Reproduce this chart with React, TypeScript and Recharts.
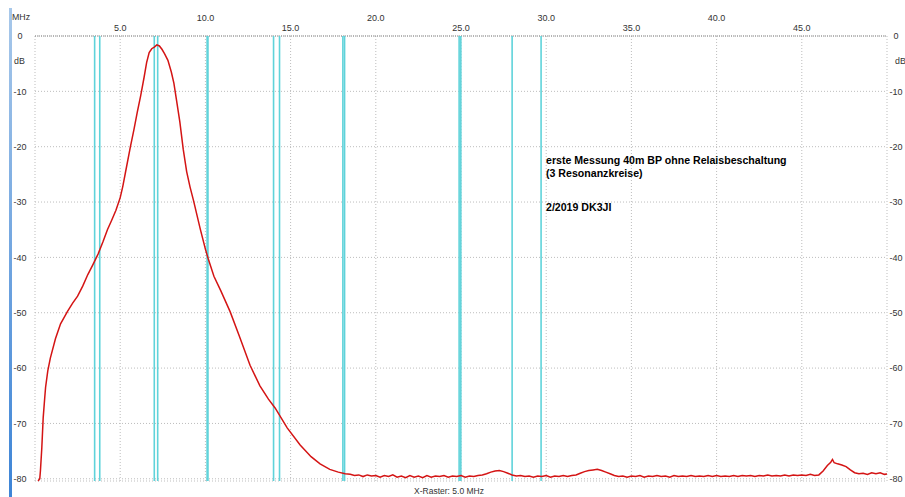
import { LineChart, Line, XAxis, YAxis, CartesianGrid, ReferenceLine } from "recharts";

// measured trace of the 40m band pass, [MHz, dB]
const TRACE_PASSBAND: [number, number][] = [
  [0.18, -80.4], [0.28, -80.0], [0.32, -78.5], [0.4, -74.4], [0.48, -69.0], [0.57, -65.4],
  [0.62, -63.5], [0.75, -60.5], [0.9, -58.2], [1.2, -54.7], [1.5, -52.0], [1.9, -49.8],
  [2.2, -48.3], [2.5, -47.0], [2.8, -45.2], [3.1, -43.1], [3.4, -41.3], [3.7, -39.4],
  [4.0, -37.1], [4.25, -35.0], [4.5, -33.3], [4.75, -31.5], [5.0, -29.2], [5.15, -27.2],
  [5.3, -24.8], [5.6, -20.0], [5.8, -17.0], [6.0, -13.8], [6.2, -10.8], [6.4, -7.5], [6.55, -4.8],
  [6.7, -3.0], [6.85, -2.3], [7.0, -2.0], [7.15, -1.6], [7.3, -1.8], [7.45, -2.4],
  [7.6, -3.2], [7.8, -4.4], [8.0, -6.5], [8.15, -8.5], [8.3, -11.5], [8.5, -15.5],
  [8.7, -20.5], [8.9, -24.5], [9.1, -27.3], [9.3, -29.7], [9.7, -34.9], [10.0, -38.5],
  [10.17, -40.3], [10.5, -43.4], [10.9, -46.0], [11.45, -49.8], [12.0, -54.3], [12.62, -59.5],
  [13.2, -63.2], [13.7, -65.6], [14.09, -67.2], [14.8, -70.8], [15.56, -73.9], [16.2, -76.0],
  [16.73, -77.3], [17.3, -78.3], [17.8, -78.8], [18.2, -79.1], [18.5, -79.2],
];

const TRACE_FLOOR: [number, number][] = [
  [18.75, -79.4], [19.0, -79.3], [19.25, -79.6], [19.5, -79.3], [19.75, -79.5], [20.0, -79.4],
  [20.25, -79.7], [20.5, -79.4], [20.75, -79.6], [21.0, -79.3], [21.25, -79.7], [21.5, -79.5],
  [21.75, -79.8], [22.0, -79.4], [22.25, -79.7], [22.5, -79.5], [22.75, -79.8], [23.0, -79.4],
  [23.25, -79.7], [23.5, -79.5], [23.75, -79.6], [24.0, -79.4], [24.25, -79.7], [24.5, -79.5],
  [24.75, -79.6], [25.0, -79.4], [25.25, -79.7], [25.5, -79.5], [25.75, -79.6], [26.0, -79.4],
  [26.25, -79.3], [26.5, -79.1], [26.75, -78.8], [27.0, -78.6], [27.25, -78.5], [27.5, -78.7],
  [27.75, -79.0], [28.0, -79.3], [28.25, -79.5], [28.5, -79.4], [28.75, -79.6], [29.0, -79.5],
  [29.25, -79.7], [29.5, -79.5], [29.75, -79.6], [30.0, -79.4], [30.25, -79.7], [30.5, -79.5],
  [30.75, -79.6], [31.0, -79.4], [31.25, -79.6], [31.5, -79.4], [31.75, -79.3], [32.0, -79.0],
  [32.25, -78.7], [32.5, -78.5], [32.75, -78.4], [33.0, -78.3], [33.25, -78.5], [33.5, -78.8],
  [33.75, -79.1], [34.0, -79.4], [34.25, -79.6], [34.5, -79.5], [34.75, -79.7], [35.0, -79.5],
  [35.25, -79.6], [35.5, -79.4], [35.75, -79.7], [36.0, -79.5], [36.25, -79.6], [36.5, -79.4],
  [36.75, -79.6], [37.0, -79.5], [37.25, -79.7], [37.5, -79.4], [37.75, -79.6], [38.0, -79.5],
  [38.25, -79.6], [38.5, -79.4], [38.75, -79.6], [39.0, -79.5], [39.25, -79.6], [39.5, -79.4],
  [39.75, -79.6], [40.0, -79.4], [40.25, -79.6], [40.5, -79.5], [40.75, -79.6], [41.0, -79.4],
  [41.25, -79.6], [41.5, -79.4], [41.75, -79.5], [42.0, -79.4], [42.25, -79.6], [42.5, -79.4],
  [42.75, -79.5], [43.0, -79.3], [43.25, -79.5], [43.5, -79.4], [43.75, -79.5], [44.0, -79.3],
  [44.25, -79.5], [44.5, -79.3], [44.75, -79.4], [45.0, -79.3], [45.25, -79.4], [45.5, -79.2],
  [45.75, -79.4], [46.0, -79.3], [46.25, -78.6], [46.5, -77.6], [46.7, -77.0], [46.8, -76.5],
  [46.9, -77.1], [47.1, -77.3], [47.35, -77.5], [47.6, -77.8], [47.85, -78.4], [48.1, -78.9],
  [48.35, -79.1], [48.6, -79.0], [48.85, -79.2], [49.1, -78.9], [49.35, -79.1], [49.6, -78.9],
  [49.85, -79.2], [50.05, -79.1],
];

// amateur band edges (MHz)
const BAND_EDGES = [3.5, 3.8, 7.0, 7.2, 10.1, 10.15, 14.0, 14.35, 18.068, 18.168, 24.89, 24.99, 28.0, 29.7];

const X_TICKS = [0, 5, 10, 15, 20, 25, 30, 35, 40, 45, 50];
const Y_TICKS = [0, -10, -20, -30, -40, -50, -60, -70, -80];

const NOTE_LINES = ["erste Messung 40m BP ohne Relaisbeschaltung", "(3 Resonanzkreise)"];
const NOTE_SIGN = "2/2019 DK3JI";

const data = [...TRACE_PASSBAND, ...TRACE_FLOOR].map(([f, db]) => ({ f, db }));

const FONT = "'Liberation Sans', Arial, sans-serif";

const TopTick = (props: any) => {
  const { x, payload } = props;
  const v = payload.value;
  if (v === 0 || v === 50) return <g />;
  const high = v % 10 === 0;
  return (
    <text x={x} y={high ? 20.5 : 30.5} textAnchor="middle" fontSize={9} fill="#333" fontFamily={FONT}>
      {v.toFixed(1)}
    </text>
  );
};

const SideTick = (cx: number) => (props: any) => {
  const { y, payload } = props;
  return (
    <text x={cx} y={y} dy={3.2} textAnchor="middle" fontSize={9} fill="#333" fontFamily={FONT}>
      {payload.value}
    </text>
  );
};

const txt = (extra: React.CSSProperties): React.CSSProperties => ({
  position: "absolute",
  fontFamily: FONT,
  color: "#333",
  whiteSpace: "nowrap",
  ...extra,
});

export default function App() {
  return (
    <div style={{ position: "absolute", left: 0, top: 0, width: 905, height: 497, background: "#fff", overflow: "hidden" }}>
      <div
        style={{
          position: "absolute",
          left: 9,
          top: 8,
          width: 3,
          height: 489,
          background: "linear-gradient(#a8c8ea, #3d84d6)",
        }}
      />
      <LineChart width={905} height={497} data={data} margin={{ top: 0, right: 0, bottom: 16, left: 0 }}>
        <CartesianGrid yAxisId="left" stroke="#bdbdbd" strokeDasharray="1 2" />
        <XAxis
          dataKey="f"
          type="number"
          orientation="top"
          domain={[0, 50]}
          ticks={X_TICKS}
          height={36}
          axisLine={false}
          tickLine={false}
          tick={TopTick}
          allowDataOverflow
        />
        <YAxis
          yAxisId="left"
          type="number"
          domain={[-80, 0]}
          ticks={Y_TICKS}
          width={35}
          axisLine={false}
          tickLine={false}
          tick={SideTick(20)}
        />
        <YAxis
          yAxisId="right"
          orientation="right"
          type="number"
          domain={[-80, 0]}
          ticks={Y_TICKS}
          width={18}
          axisLine={false}
          tickLine={false}
          tick={SideTick(896)}
        />
        <ReferenceLine yAxisId="left" y={0} stroke="#888" strokeDasharray="1 1" />
        {BAND_EDGES.map((f) => (
          <ReferenceLine key={f} yAxisId="left" x={f} stroke="#5fd3da" strokeWidth={1.6} />
        ))}
        <Line
          yAxisId="left"
          dataKey="db"
          type="linear"
          stroke="#d41414"
          strokeWidth={1.5}
          dot={false}
          isAnimationActive={false}
        />
        <Line
          yAxisId="right"
          dataKey="db"
          type="linear"
          stroke="none"
          dot={false}
          activeDot={false}
          legendType="none"
          isAnimationActive={false}
        />
      </LineChart>
      <div style={txt({ left: 12, top: 12, fontSize: 8.8, lineHeight: "10px" })}>MHz</div>
      <div style={txt({ left: 14, top: 56, fontSize: 8.8, lineHeight: "10px" })}>dB</div>
      <div style={txt({ left: 895, top: 56, fontSize: 8.8, lineHeight: "10px" })}>dB</div>
      <div style={txt({ left: 349, width: 200, top: 486, fontSize: 8.5, lineHeight: "10px", textAlign: "center" })}>
        X-Raster: 5.0 MHz
      </div>
      <div style={txt({ left: 546, top: 153.5, fontSize: 10.6, lineHeight: "13px", fontWeight: 700, color: "#000" })}>
        {NOTE_LINES.map((l) => (
          <div key={l}>{l}</div>
        ))}
      </div>
      <div style={txt({ left: 546, top: 200.5, fontSize: 10.6, lineHeight: "13px", fontWeight: 700, color: "#000" })}>
        {NOTE_SIGN}
      </div>
    </div>
  );
}
